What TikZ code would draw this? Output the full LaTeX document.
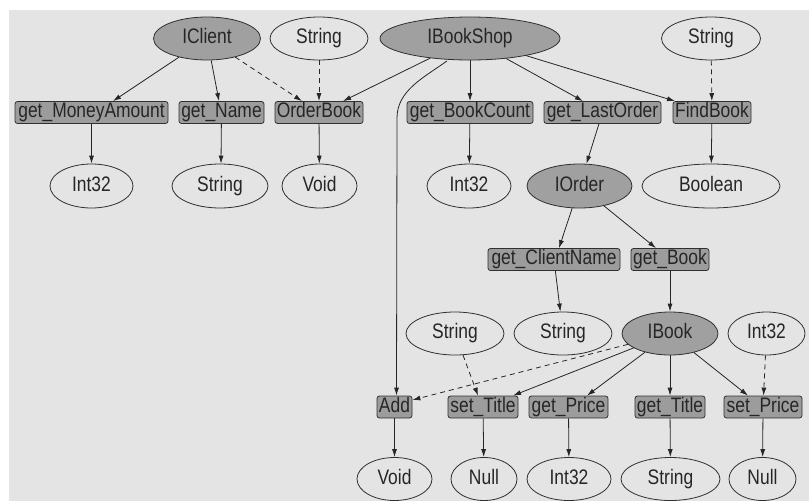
\documentclass[tikz,border=0pt]{standalone}
\usepackage{fontspec}
\setmainfont[FakeStretch=0.83]{Liberation Sans}
\usetikzlibrary{shapes.geometric,arrows.meta,calc}
\definecolor{bg}{HTML}{E4E4E4}
\definecolor{nodefill}{HTML}{A0A0A0}
\definecolor{boxfill}{HTML}{9C9C9C}
\definecolor{ln}{HTML}{303030}
\begin{document}
\begin{tikzpicture}[x=1pt,y=-1pt,
 every node/.style={font=\fontsize{21}{22}\selectfont, text=black!85, text height=15pt, text depth=4.5pt},
 iface/.style={ellipse, draw=ln, fill=nodefill, line width=0.8pt, inner sep=0pt, minimum height=43pt},
 typ/.style={ellipse, draw=ln, fill=bg, line width=0.8pt, inner sep=0pt, minimum height=43pt},
 meth/.style={rectangle, rounded corners=2.5pt, draw=ln, fill=boxfill, line width=0.8pt, inner sep=1pt, minimum height=22pt},
 edge/.style={draw=black!85, line width=0.8pt, -{Latex[length=8pt,width=5pt]}},
 dedge/.style={edge, dash pattern=on 5pt off 4pt}
]
\useasboundingbox (0,0) rectangle (809,501);
\fill[white] (0,0) rectangle (809,501);
\fill[bg] (9,10) rectangle (809,501);

% row 1
\node[iface, minimum width=107pt] (iclient) at (207,38.5) {IClient};
\node[typ, minimum width=98pt] (s1) at (319,38.5) {String};
\node[iface, minimum width=180pt] (ibs) at (470,38.5) {IBookShop};
\node[typ, minimum width=99pt] (s2) at (711,38.5) {String};
% row 2
\node[meth, minimum width=153pt] (gma) at (91.5,112.5) {get\_MoneyAmount};
\node[meth, minimum width=85pt] (gname) at (221.5,112.5) {get\_Name};
\node[meth, minimum width=88pt] (ob) at (319,112.5) {OrderBook};
\node[meth, minimum width=126pt] (gbc) at (470,112.5) {get\_BookCount};
\node[meth, minimum width=117pt] (glo) at (602.5,112.5) {get\_LastOrder};
\node[meth, minimum width=78pt] (fb) at (712,112.5) {FindBook};
% row 3
\node[typ, minimum width=83pt, minimum height=44pt] (i1) at (91.5,186) {Int32};
\node[typ, minimum width=96pt, minimum height=44pt] (s3) at (220,186) {String};
\node[typ, minimum width=75pt, minimum height=44pt] (v1) at (319.5,186) {Void};
\node[typ, minimum width=84pt, minimum height=44pt] (i2) at (469,186) {Int32};
\node[iface, minimum width=105pt, minimum height=44pt] (iorder) at (579.5,186) {IOrder};
\node[typ, minimum width=138pt, minimum height=44pt] (bool) at (711,186) {Boolean};
% row 4
\node[meth, minimum width=132pt] (gcn) at (554,259.5) {get\_ClientName};
\node[meth, minimum width=78pt] (gb) at (670,259.5) {get\_Book};
% row 5
\node[typ, minimum width=98pt] (s4) at (455,333.5) {String};
\node[typ, minimum width=98pt] (s5) at (563,333.5) {String};
\node[iface, minimum width=96pt] (ibook) at (670,333.5) {IBook};
\node[typ, minimum width=77pt] (i3) at (766.5,333.5) {Int32};
% row 6
\node[meth, minimum width=35pt] (add) at (394.5,407) {Add};
\node[meth, minimum width=70pt] (st) at (483,407) {set\_Title};
\node[meth, minimum width=79pt] (gp) at (568.5,407) {get\_Price};
\node[meth, minimum width=70pt] (gt) at (670,407) {get\_Title};
\node[meth, minimum width=78pt] (sp) at (763,407) {set\_Price};
% row 7
\node[typ, minimum width=75pt] (v2) at (394.5,479) {Void};
\node[typ, minimum width=66pt] (n1) at (484,479) {Null};
\node[typ, minimum width=84pt] (i4) at (569,479) {Int32};
\node[typ, minimum width=99pt] (s6) at (670.5,479) {String};
\node[typ, minimum width=67pt] (n2) at (762.5,479) {Null};

% edges from IClient
\draw[edge] (iclient) -- ([xshift=21.5pt]gma.north);
\draw[edge] (iclient) -- ([xshift=-2.5pt]gname.north);
\draw[dedge] (iclient) -- ([xshift=-17pt]ob.north);
\draw[dedge] (s1) -- (ob);
% edges from IBookShop
\draw[edge] (ibs) -- ([xshift=24pt]ob.north);
\coordinate (addbend) at (397,118);
\draw[edge] ([xshift=-23pt,yshift=-0.5pt]ibs.south) .. controls (425,77) and (397,90) .. (addbend) -- ([xshift=2pt]add.north);
\draw[edge] (ibs) -- (gbc);
\draw[edge] (ibs) -- ([xshift=-19.5pt]glo.north);
\draw[edge] (ibs) -- ([xshift=-37pt]fb.north);
\draw[dedge] (s2) -- (fb);
% row2 -> row3
\draw[edge] (gma) -- (i1);
\draw[edge] (gname) -- ([xshift=1pt]s3.north);
\draw[edge] (ob) -- (v1);
\draw[edge] (gbc) -- (i2);
\draw[edge] (glo) -- (iorder);
\draw[edge] (fb) -- (bool);
% IOrder
\draw[edge] (iorder) -- ([xshift=5pt]gcn.north);
\draw[edge] (iorder) -- ([xshift=-14pt]gb.north);
\draw[edge] (gcn) -- (s5);
\draw[edge] (gb) -- (ibook);
% IBook
\draw[dedge] (ibook) -- ([yshift=7pt]add.east);
\draw[edge] (ibook) -- ([xshift=30pt]st.north);
\draw[edge] (ibook) -- ([xshift=18.5pt]gp.north);
\draw[edge] (ibook) -- (gt);
\draw[edge] (ibook) -- ([xshift=-15pt]sp.north);
\draw[dedge] (s4) -- ([xshift=-5pt]st.north);
\draw[dedge] (i3) -- (sp);
% row6 -> row7
\draw[edge] (add) -- (v2);
\draw[edge] (st) -- (n1);
\draw[edge] (gp) -- (i4);
\draw[edge] (gt) -- (s6);
\draw[edge] (sp) -- (n2);
\end{tikzpicture}
\end{document}
